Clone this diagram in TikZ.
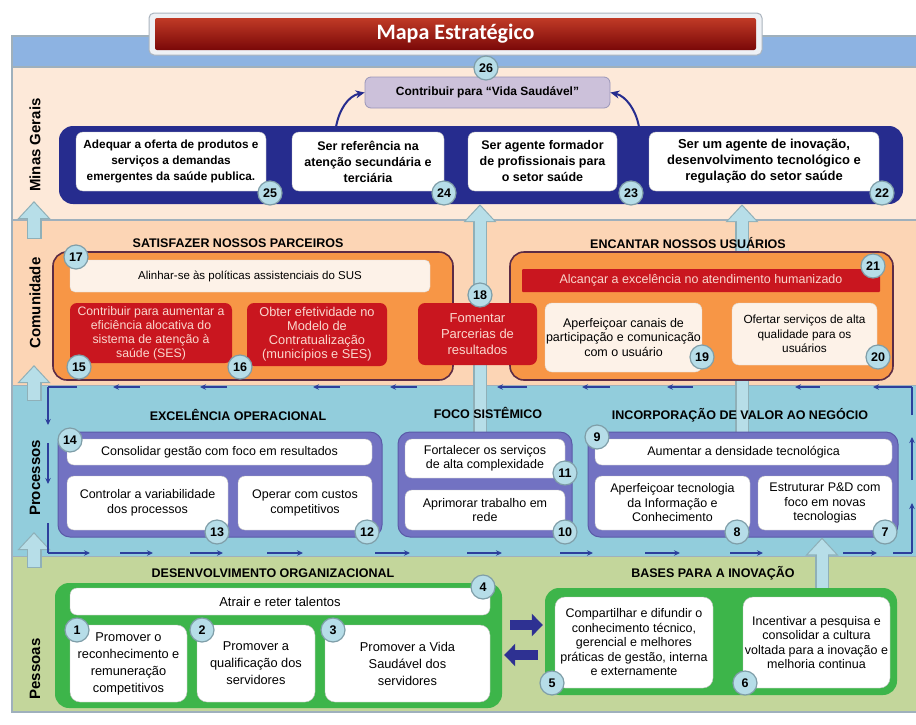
\documentclass[tikz,border=0pt]{standalone}
\usepackage{fontspec}
\setmainfont{Liberation Sans}
\newfontfamily\titlefont{Carlito}
\usetikzlibrary{arrows.meta}
\definecolor{topband}{HTML}{8DB3E2}
\definecolor{mgbg}{HTML}{FDE9D9}
\definecolor{combg}{HTML}{FCD5B5}
\definecolor{probg}{HTML}{92CDDC}
\definecolor{pesbg}{HTML}{C3D69B}
\definecolor{sepc}{HTML}{9FB0BC}
\definecolor{mgblue}{HTML}{262C8E}
\definecolor{lav}{HTML}{CCC1DA}
\definecolor{lavb}{HTML}{9A96B8}
\definecolor{orng}{HTML}{F79646}
\definecolor{orngb}{HTML}{5C2B45}
\definecolor{cred}{HTML}{C9161F}
\definecolor{ctxt}{HTML}{FAD7CD}
\definecolor{cream}{HTML}{FDF2E8}
\definecolor{purp}{HTML}{7272C2}
\definecolor{purpb}{HTML}{5A5AA8}
\definecolor{grn}{HTML}{3DB54A}
\definecolor{numf}{HTML}{B6DDE8}
\definecolor{numb}{HTML}{7F9EA8}
\definecolor{arrf}{HTML}{B7DEE8}
\definecolor{arrb}{HTML}{8FB0B8}
\definecolor{flowc}{HTML}{2D3F9C}
\definecolor{blk}{HTML}{2E3192}
\definecolor{titleo}{HTML}{EEF1F5}
\definecolor{titleb}{HTML}{AAB4BE}
\begin{document}
\begin{tikzpicture}[x=1pt,y=-1pt,
  box/.style={rounded corners=7pt, inner sep=1pt, align=center, font=\fontsize{12.5}{14.5}\selectfont},
  wbox/.style={box, fill=white, draw=black!25, line width=0.4pt},
  mgbox/.style={wbox, font=\bfseries\fontsize{12.5}{16}\selectfont},
  rbox/.style={box, fill=cred, text=ctxt},
  cbox/.style={box, fill=cream, draw=black!15, line width=0.4pt},
  pbox/.style={wbox, rounded corners=10pt, font=\fontsize{12.8}{17}\selectfont},
  num/.style={circle, fill=numf, draw=numb, line width=1.2pt, minimum size=24pt, inner sep=0pt, font=\bfseries\fontsize{12.5}{12.5}\selectfont},
  head/.style={font=\bfseries\fontsize{12.5}{13}\selectfont},
  bandlbl/.style={font=\bfseries\fontsize{15}{15}\selectfont, rotate=90},
  cont/.style={rounded corners=14pt},
  flow/.style={draw=flowc, line width=1.6pt, -{Stealth[length=6pt,width=5.5pt]}},
  flowp/.style={draw=flowc, line width=1.6pt},
  bigO/.style={draw=arrb, line width=15pt, -{Triangle[length=18pt,width=32pt]}},
  bigI/.style={draw=arrf, line width=12pt, shorten >=1.8pt, shorten <=1.5pt, -{Triangle[length=15pt,width=27pt]}},
  curv/.style={draw=mgblue, line width=2pt, -{Stealth[length=9pt,width=8pt]}},
  blockarr/.style={draw=blk, line width=10pt, -{Triangle[length=11pt,width=22pt]}}
]
\useasboundingbox (0,0) rectangle (916,724);
\fill[white] (0,0) rectangle (916,724);
% bands
\fill[topband] (12,36) rectangle (916,67);
\fill[mgbg] (12,67) rectangle (916,220);
\fill[combg] (12,220) rectangle (916,385);
\fill[probg] (12,385) rectangle (916,556);
\fill[pesbg] (12,556) rectangle (916,712);
\draw[sepc, line width=1.2pt] (916,36) -- (12,36) -- (12,712) -- (916,712);
\draw[sepc, line width=2pt] (12,67) -- (916,67);
\draw[sepc, line width=2.5pt] (12,220) -- (916,220);
\draw[sepc, line width=1pt] (12,385) -- (916,385);
\draw[sepc, line width=1pt] (12,556) -- (916,556);
% title
\node[rounded corners=5pt, fill=titleo, draw=titleb, line width=1pt, minimum width=613pt, minimum height=42pt] (titleO) at (455.5,34) {};
\node[rounded corners=2pt, top color={rgb,255:red,192;green,58;blue,38}, bottom color={rgb,255:red,122;green,8;blue,8}, minimum width=601pt, minimum height=32pt, text=white, font=\titlefont\bfseries\fontsize{22}{22}\selectfont] (title) at (455.5,34) {Mapa Estratégico};
% band labels
\node[bandlbl] (lblMG) at (35,145) {Minas Gerais};
\node[bandlbl] (lblCO) at (35,303) {Comunidade};
\node[bandlbl] (lblPR) at (35,478) {Processos};
\node[bandlbl] (lblPE) at (35,669) {Pessoas};
% left big arrows
\coordinate (la1s) at (34,239); \coordinate (la1e) at (34,201);
\coordinate (la2s) at (34,401); \coordinate (la2e) at (34,365);
\coordinate (la3s) at (34,568); \coordinate (la3e) at (34,532);
\foreach \s/\e in {la1s/la1e, la2s/la2e, la3s/la3e}{
  \draw[bigO] (\s) -- (\e); \draw[bigI] (\s) -- (\e);}
% ---------- containers (needed for arrows) ----------
\node[cont, fill=mgblue, minimum width=844pt, minimum height=78pt] (Mcont) at (481,165) {};
\coordinate (a18s) at (480,437);
\coordinate (a9s) at (742,433);
\coordinate (a6s) at (822,590);
\draw[bigO, line width=14pt] (a18s) -- (a18s |- Mcont.south);
\draw[bigI, line width=11pt] (a18s) -- (a18s |- Mcont.south);
\draw[bigO, line width=14pt] (a9s) -- (a9s |- Mcont.south);
\draw[bigI, line width=11pt] (a9s) -- (a9s |- Mcont.south);
% flow loop
\draw[flowp] (77,387) -- (48,387);
\draw[flow] (48,387) -- (48,425);
\draw[flow] (48,443) -- (48,484);
\draw[flowp] (48,523) -- (48,553);
\draw[flow] (48,553) -- (90,553);
\foreach \a/\b in {120/153,190/223,267/303,375/410,467/502,560/593,645/680,730/763,843/877}
  \draw[flow] (\a,553) -- (\b,553);
\draw[flowp] (893,553) -- (912,553);
\draw[flow] (912,553) -- (912,503);
\draw[flow] (912,480) -- (912,437);
\draw[flowp] (912,415) -- (912,387);
\draw[flow] (912,387) -- (873,387);
\foreach \a/\b in {820/795,693/667,610/582,527/497,417/390,340/313,227/200,140/113}
  \draw[flow] (\a,387) -- (\b,387);
% ---------- Minas Gerais ----------
\node[box, fill=lav, draw=lavb, line width=0.8pt, rounded corners=6pt, minimum width=245pt, minimum height=31pt, font=\bfseries\fontsize{12}{14}\selectfont] (b26) at (487.5,92.5) {Contribuir para \textquotedblleft Vida Saudável\textquotedblright};
\node[num] (c26) at (486,68) {26};
\coordinate (k1) at (336,127); \coordinate (k2) at (639,127);
\draw[curv] (k1) .. controls (339,110) and (348,96) .. (b26.west);
\draw[curv] (k2) .. controls (636,110) and (626,96) .. (b26.east);
\node[mgbox, minimum width=190pt, minimum height=59pt, font=\bfseries\fontsize{11.8}{16}\selectfont] (b25) at (171,161.5) {Adequar a oferta de produtos e\\serviços a demandas\\emergentes da saúde publica.};
\node[mgbox, minimum width=152pt, minimum height=59pt] (b24) at (368,161.5) {Ser referência na\\atenção secundária e\\terciária};
\node[mgbox, minimum width=149pt, minimum height=59pt] (b23) at (542.5,161.5) {Ser agente formador\\de profissionais para\\o setor saúde};
\node[mgbox, minimum width=230pt, minimum height=59pt, font=\bfseries\fontsize{13}{16}\selectfont] (b22) at (764,161.5) {Ser um agente de inovação,\\desenvolvimento tecnológico e\\regulação do setor saúde};
\node[num] (c25) at (270,193) {25};
\node[num] (c24) at (444,193) {24};
\node[num] (c23) at (631,193) {23};
\node[num] (c22) at (882,193) {22};
% ---------- Comunidade ----------
\node[head] (hSP) at (238,243) {SATISFAZER NOSSOS PARCEIROS};
\node[head] (hEN) at (688,243) {ENCANTAR NOSSOS USUÁRIOS};
\node[cont, fill=orng, draw=orngb, line width=1.6pt, minimum width=400pt, minimum height=128pt] (CL) at (253,316) {};
\node[cont, fill=orng, draw=orngb, line width=1.6pt, minimum width=383pt, minimum height=128pt] (CR) at (701.5,316) {};
\node[cbox, rounded corners=5pt, minimum width=360pt, minimum height=32pt, font=\fontsize{11.5}{13}\selectfont] (b17) at (250,276) {Alinhar-se às políticas assistenciais do SUS};
\node[rbox, minimum width=162pt, minimum height=60pt, font=\fontsize{12.3}{14}\selectfont] (b15) at (151,333) {Contribuir para aumentar a\\eficiência alocativa do\\sistema de atenção à\\saúde (SES)};
\node[rbox, minimum width=140pt, minimum height=63pt, font=\fontsize{12.8}{14}\selectfont] (b16) at (317,334.5) {Obter efetividade no\\Modelo de\\Contratualização\\(municípios e SES)};
\node[rbox, minimum width=119pt, minimum height=62pt, font=\fontsize{13}{16}\selectfont] (b18) at (477.5,334) {Fomentar\\Parcerias de\\resultados};
\node[rbox, rounded corners=1pt, minimum width=358pt, minimum height=23pt] (b21) at (701,280.5) {Alcançar a excelência no atendimento humanizado};
\node[cbox, minimum width=153pt, minimum height=69pt] (b19) at (623.5,337.5) {Aperfeiçoar canais de\\participação e comunicação\\com o usuário};
\node[cbox, minimum width=145pt, minimum height=62pt, font=\fontsize{11.8}{14.5}\selectfont] (b20) at (804.5,334) {Ofertar serviços de alta\\qualidade para os\\usuários};
\node[num] (c17) at (76,257) {17};
\node[num] (c15) at (79,367) {15};
\node[num] (c16) at (240,367) {16};
\node[num] (c18) at (480,295) {18};
\node[num] (c21) at (873,266) {21};
\node[num] (c19) at (702,357) {19};
\node[num] (c20) at (878,357) {20};
% ---------- Processos ----------
\node[head] (hEO) at (238,415) {EXCELÊNCIA OPERACIONAL};
\node[head] (hFS) at (488,413) {FOCO SISTÊMICO};
\node[head] (hIV) at (740,415) {INCORPORAÇÃO DE VALOR AO NEGÓCIO};
\node[cont, rounded corners=12pt, fill=purp, draw=purpb, line width=1pt, minimum width=324pt, minimum height=105pt] (P1) at (220,484.5) {};
\node[cont, rounded corners=12pt, fill=purp, draw=purpb, line width=1pt, minimum width=174pt, minimum height=105pt] (P2) at (485,484.5) {};
\node[cont, rounded corners=12pt, fill=purp, draw=purpb, line width=1pt, minimum width=310pt, minimum height=105pt] (P3) at (743,484.5) {};
\draw[bigO, line width=14pt] (a6s) -- (a6s |- P3.south);
\draw[bigI, line width=11pt] (a6s) -- (a6s |- P3.south);
\node[wbox, minimum width=305pt, minimum height=26pt] (b14) at (219.5,452) {Consolidar gestão com foco em resultados};
\node[wbox, minimum width=161pt, minimum height=54pt] (b13) at (147.5,503) {Controlar a variabilidade\\dos processos};
\node[wbox, minimum width=134pt, minimum height=54pt] (b12) at (305,503) {Operar com custos\\competitivos};
\node[wbox, minimum width=160pt, minimum height=39pt] (b11) at (485,458.5) {Fortalecer os serviços\\de alta complexidade};
\node[wbox, minimum width=160pt, minimum height=40pt] (b10) at (485,510) {Aprimorar trabalho em\\rede};
\node[wbox, minimum width=297pt, minimum height=26pt] (b9) at (743.5,452) {Aumentar a densidade tecnológica};
\node[wbox, minimum width=155pt, minimum height=54pt] (b8) at (672.5,503) {Aperfeiçoar tecnologia\\da Informação e\\Conhecimento};
\node[wbox, minimum width=134pt, minimum height=54pt] (b7) at (825,503) {Estruturar P\&D com\\foco em novas\\tecnologias};
\node[num] (c14) at (70,440) {14};
\node[num] (c13) at (217,532) {13};
\node[num] (c12) at (367,532) {12};
\node[num] (c11) at (565,473) {11};
\node[num] (c10) at (565,532) {10};
\node[num] (c9) at (597,437) {9};
\node[num] (c8) at (737,532) {8};
\node[num] (c7) at (885,532) {7};
% ---------- Pessoas ----------
\node[head] (hDO) at (273,573) {DESENVOLVIMENTO ORGANIZACIONAL};
\node[head] (hBI) at (713,573) {BASES PARA A INOVAÇÃO};
\node[cont, fill=grn, minimum width=447pt, minimum height=125pt] (G1) at (278.5,645.5) {};
\node[cont, fill=grn, minimum width=352pt, minimum height=107pt] (G2) at (721,641.5) {};
\node[wbox, minimum width=420pt, minimum height=27pt, font=\fontsize{13}{14}\selectfont] (b4) at (280,601.5) {Atrair e reter talentos};
\node[pbox, minimum width=117pt, minimum height=77pt] (b1) at (128.5,663.5) {Promover o\\reconhecimento e\\remuneração\\competitivos};
\node[pbox, minimum width=118pt, minimum height=77pt] (b2) at (256,663.5) {Promover a\\qualificação dos\\servidores};
\node[pbox, minimum width=165pt, minimum height=77pt] (b3) at (407.5,663.5) {Promover a Vida\\Saudável dos\\servidores};
\node[wbox, rounded corners=10pt, minimum width=158pt, minimum height=91pt] (b5) at (634,642.5) {Compartilhar e difundir o\\conhecimento técnico,\\gerencial e melhores\\práticas de gestão, interna\\e externamente};
\node[wbox, rounded corners=10pt, minimum width=147pt, minimum height=91pt] (b6) at (816.5,642.5) {Incentivar a pesquisa e\\consolidar a cultura\\voltada para a inovação e\\melhoria continua};
\coordinate (ba1s) at (G1.east |- 0,625); \coordinate (ba2s) at (G2.west |- 0,655);
\draw[blockarr] ([xshift=8pt]ba1s) -- ([xshift=-2pt]ba1s -| G2.west);
\draw[blockarr] ([xshift=-7pt]ba2s) -- ([xshift=2pt]ba2s -| G1.east);
\node[num] (c4) at (483,587) {4};
\node[num] (c1) at (77,630) {1};
\node[num] (c2) at (202,630) {2};
\node[num] (c3) at (333,630) {3};
\node[num] (c5) at (552,683) {5};
\node[num] (c6) at (745,683) {6};
\end{tikzpicture}
\end{document}
